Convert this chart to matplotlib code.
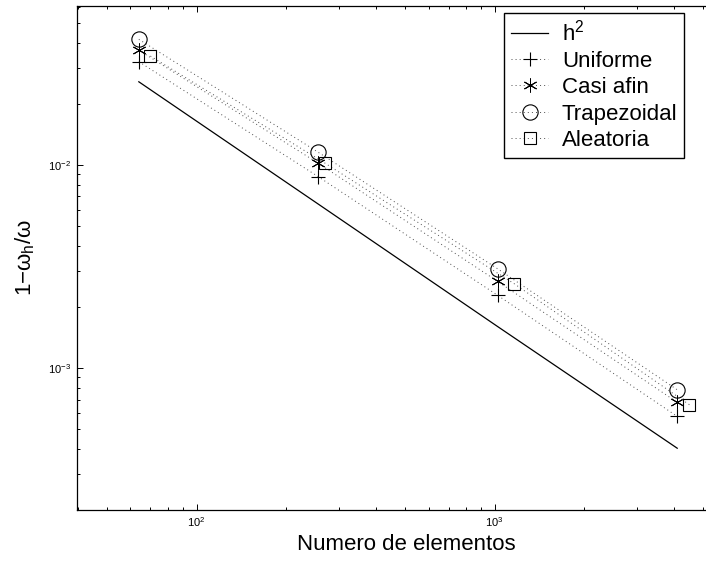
# -*- coding: utf-8 -*-
"""
Convergencia de la frecuencia: error relativo vs numero de elementos
"""

import matplotlib
matplotlib.use('Agg')
import matplotlib.pyplot as plt
import numpy as np

plt.rcParams['font.family'] = ['Liberation Sans', 'DejaVu Sans']
plt.rcParams['mathtext.fontset'] = 'custom'
plt.rcParams['mathtext.rm'] = 'Liberation Sans'
plt.rcParams['mathtext.it'] = 'Liberation Sans:italic'
plt.rcParams['mathtext.bf'] = 'Liberation Sans:bold'

# DATA
n_elem = [64, 256, 1024, 4096]
n_alea = [70, 270, 1164, 4500]
ref_h2 = [0.0257, 0.00642, 0.0016, 0.000403]
err_uniforme = [0.0323, 0.00876, 0.00228, 0.000578]
err_casi_afin = [0.0368, 0.0102, 0.00267, 0.000678]
err_trapezoidal = [0.0416, 0.01155, 0.00308, 0.000782]
err_aleatoria = [0.0344, 0.0102, 0.0026, 0.00066]

labels = ['h$^2$', 'Uniforme', 'Casi afin', 'Trapezoidal', 'Aleatoria']

# CONFIG
W, H = 706, 564
xlabel = 'Numero de elementos'
ylabel = '1\u2212\u03c9$_{\\mathregular{h}}$/\u03c9'
dots = (0, (1, 3.2))
dotcol = '0.3'

fig = plt.figure(figsize=(W / 100, H / 100), dpi=100)
ax = fig.add_axes([77 / W, 54 / H, (736 - 77) / W, (510 - 6) / H])

ax.loglog(n_elem, ref_h2, '-', color='k', lw=0.9, label=labels[0])
ax.loglog(n_elem, err_uniforme, color=dotcol, ls=dots, lw=0.7, marker='+',
          ms=10, mew=0.8, mec='k', label=labels[1])
ax.loglog(n_elem, err_casi_afin, color=dotcol, ls=dots, lw=0.7,
          marker=(6, 2, 0), ms=10, mew=0.7, mec='k', label=labels[2])
ax.loglog(n_elem, err_trapezoidal, color=dotcol, ls=dots, lw=0.7, marker='o',
          ms=11, mew=0.8, mec='k', mfc='none', label=labels[3])
ax.loglog(n_alea, err_aleatoria, color=dotcol, ls=dots, lw=0.7, marker='s',
          ms=8.5, mew=0.8, mec='k', mfc='none', label=labels[4])

ax.set_xlim(39.7, 6450)
ax.set_ylim(2.0e-4, 6.07e-2)

ax.tick_params(which='both', direction='in', top=True, right=True,
               labelsize=8, pad=4)
ax.tick_params(which='major', length=4.3, width=0.7)
ax.tick_params(which='minor', length=2.5, width=0.7)
for s in ax.spines.values():
    s.set_linewidth(0.9)

ax.set_xlabel(xlabel, fontsize=16, labelpad=3)
ax.set_ylabel(ylabel, fontsize=16, labelpad=8)

leg = ax.legend(loc='upper left', bbox_to_anchor=(504 / W, 1 - 13 / H),
                bbox_transform=fig.transFigure, borderaxespad=0,
                fontsize=16, handlelength=1.7, handletextpad=0.6,
                labelspacing=0.24, borderpad=0.3, fancybox=False,
                framealpha=1)
leg.get_frame().set_edgecolor('k')
leg.get_frame().set_linewidth(1.0)

fig.savefig('out.png', dpi=100)
